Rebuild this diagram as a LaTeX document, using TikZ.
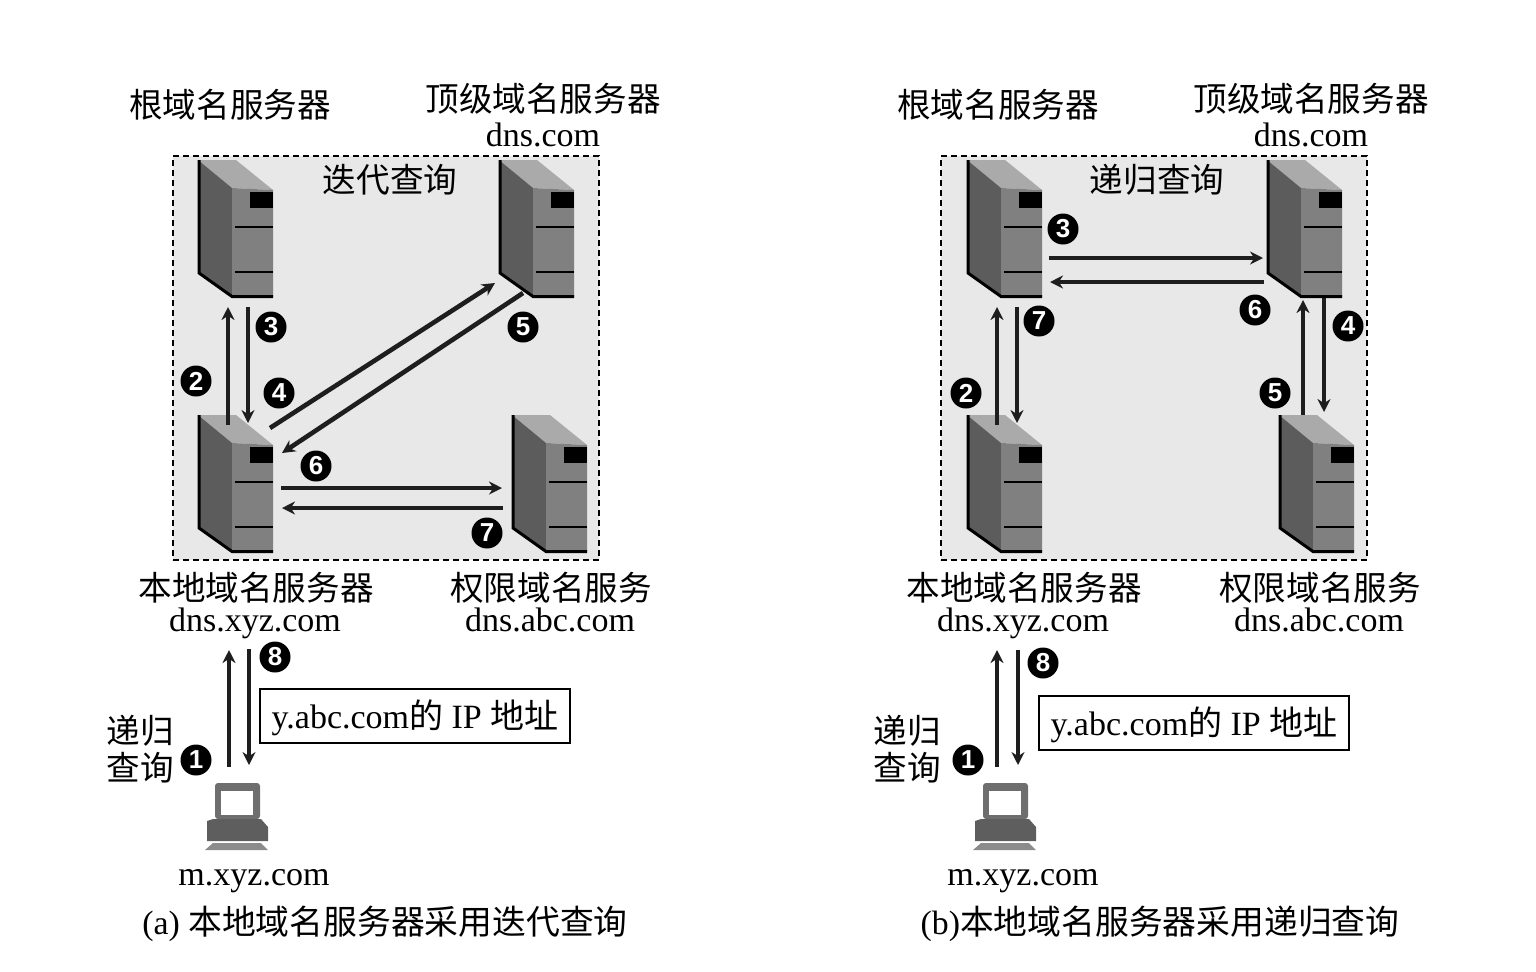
\documentclass[tikz,border=0pt]{standalone}
\usepackage{xcolor}
\usepackage{fontspec}
\usepackage{tikz}
\usetikzlibrary{
  arrows.meta,
  positioning
}
\setmainfont{Liberation Serif}
\newfontfamily\cjk{Noto Sans CJK SC}
\newfontfamily\numfont{Liberation Sans}
\definecolor{BoxGray}{RGB}{232,232,232}
\definecolor{ServerFront}{RGB}{128,128,128}
\definecolor{ServerSide}{RGB}{92,92,92}
\definecolor{ServerTop}{RGB}{170,170,170}
\definecolor{PcGray}{RGB}{110,110,110}
\definecolor{ArrowDark}{RGB}{30,30,30}
\tikzset{
  %%── 文字 ─────────────────────────────────────────────
  zhtxt/.style = {
    inner sep = 0pt, align = center,
    font = \fontsize{16.8}{18.5}\selectfont\cjk
  },
  entxt/.style = {
    inner sep = 0pt, align = center,
    text height = 12.5pt, text depth = 1.5pt,
    font = \fontsize{17}{19}\selectfont
  },
  capt/.style = {
    inner sep = 0pt, align = center,
    font = \fontsize{16.9}{19}\selectfont
  },
  %%── 编号 / 框 ────────────────────────────────────────
  num/.style = {
    circle, fill = black, text = white, inner sep = 0pt,
    minimum size = 15.5pt, font = \fontsize{13}{13}\selectfont\numfont\bfseries
  },
  grpbox/.style = {
    rectangle, draw = black, fill = BoxGray, dashed,
    line width = 1pt, dash pattern = on 3pt off 2pt,
    minimum width = 213pt, minimum height = 202pt, inner sep = 0pt
  },
  ansbox/.style = {
    rectangle, draw = black, line width = 0.9pt, inner sep = 0pt,
    minimum width = 155pt, minimum height = 27pt,
    text height = 13pt, text depth = 1pt,
    font = \fontsize{17}{19}\selectfont
  },
  %%── 箭头 ─────────────────────────────────────────────
  arr/.style = {
    -{Stealth[length = 6.5pt, width = 6.5pt]},
    line width = 2.3pt, color = ArrowDark
  },
  %%── 服务器 / 主机 ────────────────────────────────────
  server/.pic = {
    \node[anchor = north west, minimum width = 37.5pt, minimum height = 68.5pt,
      inner sep = 0pt] (-box) at (0,0) {};
    \fill[ServerTop]   (0,0) -- (38,0) -- (75,30) -- (34,28) -- cycle;
    \fill[ServerSide]  (0,0) -- (34,28) -- (34,137) -- (0,113) -- cycle;
    \fill[ServerFront] (34,28) -- (75,30) -- (75,137) -- (34,137) -- cycle;
    \fill[black] (52,32) rectangle (75,48);
    \draw[black, line width = 1pt] (37,67)  -- (75,67);
    \draw[black, line width = 1pt] (37,112) -- (75,112);
    \draw[black, line width = 1.5pt] (1,0) -- (1,113) -- (34,136.5) -- (75,136.5);
  },
  computer/.pic = {
    \node[anchor = north west, minimum width = 31.5pt, minimum height = 33.5pt,
      inner sep = 0pt] (-box) at (0,0) {};
    \fill[PcGray, rounded corners = 1.5pt] (10,0) rectangle (55,36);
    \fill[white] (16,8) rectangle (48,32);
    \fill[PcGray!85!black] (2,38) -- (8,36) -- (56,36) -- (63,44) -- (63,58) -- (2,58) -- cycle;
    \fill[PcGray!80] (8,60) -- (56,60) -- (63,67) -- (0,67) -- cycle;
  }
}

\begin{document}
\begin{tikzpicture}[x = 0.5pt, y = -0.5pt]

  \useasboundingbox (0,0) rectangle (1536,971);

  %% ── (a) 迭代查询 ─────────────────────────────────────
  \node[grpbox, anchor = north west] (groupA) at (172,155) {};
  \node[zhtxt] (iterA) at (390,180) {迭代查询};

  \pic (rootA)  at (198,160) {server};
  \pic (tldA)   at (499,160) {server};
  \pic (localA) at (198,415) {server};
  \pic (authA)  at (512,415) {server};
  \pic (pcA)    at (205,783) {computer};

  \node[zhtxt] (rootnameA)  at (230,105) {根域名服务器};
  \node[zhtxt] (tldnameA)   at (543,99)  {顶级域名服务器};
  \node[entxt] (tlddnsA)    at (543,135) {dns.com};
  \node[zhtxt] (localnameA) at (256,588) {本地域名服务器};
  \node[entxt] (localdnsA)  at (255,620) {dns.xyz.com};
  \node[zhtxt] (authnameA)  at (551,588) {权限域名服务};
  \node[entxt] (authdnsA)   at (550,620) {dns.abc.com};
  \node[zhtxt] (recurA)     at (140,749) {递归\\查询};
  \node[entxt] (pcnameA)    at (254,874) {m.xyz.com};
  \node[ansbox] (ansA)      at (415,716) {y.abc.com{\cjk 的} IP {\cjk 地址}};
  \node[capt]  (captA)      at (385,924) {(a) {\cjk 本地域名服务器采用迭代查询}};

  %% 编号
  \node[num] (n1A) at (196,760) {1};
  \node[num] (n2A) at (196,381) {2};
  \node[num] (n3A) at (271,327) {3};
  \node[num] (n4A) at (279,393) {4};
  \node[num] (n5A) at (523,327) {5};
  \node[num] (n6A) at (316,466) {6};
  \node[num] (n7A) at (487,533) {7};
  \node[num] (n8A) at (275,657) {8};

  %% 箭头
  \draw[arr] ([shift={(24,-16)}]pcA-box.north west) -- ([shift={(-26,30)}]localdnsA.center);
  \draw[arr] ([shift={(-6,29)}]localdnsA.center)    -- ([shift={(44,-18)}]pcA-box.north west);
  \draw[arr] ([shift={(30,10)}]localA-box.north west)  -- ([shift={(30,147)}]rootA-box.north west);
  \draw[arr] ([shift={(50,147)}]rootA-box.north west)  -- ([shift={(50,8)}]localA-box.north west);
  \draw[arr] ([shift={(72,13)}]localA-box.north west)  -- ([shift={(-4,123)}]tldA-box.north west);
  \draw[arr] ([shift={(24,133)}]tldA-box.north west)   -- ([shift={(84,38)}]localA-box.north west);
  \draw[arr] ([shift={(83,73)}]localA-box.north west)  -- ([shift={(-10,73)}]authA-box.north west);
  \draw[arr] ([shift={(-9,93)}]authA-box.north west)   -- ([shift={(84,93)}]localA-box.north west);

  %% ── (b) 递归查询 ─────────────────────────────────────
  \node[grpbox, anchor = north west] (groupB) at (940,155) {};
  \node[zhtxt] (iterB) at (1157,180) {递归查询};

  \pic (rootB)  at (967,160)  {server};
  \pic (tldB)   at (1267,160) {server};
  \pic (localB) at (967,415)  {server};
  \pic (authB)  at (1279,415) {server};
  \pic (pcB)    at (973,783)  {computer};

  \node[zhtxt] (rootnameB)  at (998,105)  {根域名服务器};
  \node[zhtxt] (tldnameB)   at (1311,99)  {顶级域名服务器};
  \node[entxt] (tlddnsB)    at (1311,135) {dns.com};
  \node[zhtxt] (localnameB) at (1024,588) {本地域名服务器};
  \node[entxt] (localdnsB)  at (1023,620) {dns.xyz.com};
  \node[zhtxt] (authnameB)  at (1320,588) {权限域名服务};
  \node[entxt] (authdnsB)   at (1319,620) {dns.abc.com};
  \node[zhtxt] (recurB)     at (907,749)  {递归\\查询};
  \node[entxt] (pcnameB)    at (1023,874) {m.xyz.com};
  \node[ansbox] (ansB)      at (1194,723) {y.abc.com{\cjk 的} IP {\cjk 地址}};
  \node[capt]  (captB)      at (1160,924) {(b){\cjk 本地域名服务器采用递归查询}};

  %% 编号
  \node[num] (n1B) at (968,760)  {1};
  \node[num] (n2B) at (966,393)  {2};
  \node[num] (n3B) at (1063,229) {3};
  \node[num] (n4B) at (1348,326) {4};
  \node[num] (n5B) at (1275,393) {5};
  \node[num] (n6B) at (1255,310) {6};
  \node[num] (n7B) at (1039,321) {7};
  \node[num] (n8B) at (1043,663) {8};

  %% 箭头
  \draw[arr] ([shift={(24,-16)}]pcB-box.north west) -- ([shift={(-26,30)}]localdnsB.center);
  \draw[arr] ([shift={(-5,30)}]localdnsB.center)    -- ([shift={(45,-18)}]pcB-box.north west);
  \draw[arr] ([shift={(30,10)}]localB-box.north west) -- ([shift={(30,147)}]rootB-box.north west);
  \draw[arr] ([shift={(50,147)}]rootB-box.north west) -- ([shift={(50,8)}]localB-box.north west);
  \draw[arr] ([shift={(82,98)}]rootB-box.north west)  -- ([shift={(-4,98)}]tldB-box.north west);
  \draw[arr] ([shift={(-3,122)}]tldB-box.north west)  -- ([shift={(83,122)}]rootB-box.north west);
  \draw[arr] ([shift={(57,138)}]tldB-box.north west)  -- ([shift={(45,-3)}]authB-box.north west);
  \draw[arr] ([shift={(24,0)}]authB-box.north west)   -- ([shift={(36,140)}]tldB-box.north west);

\end{tikzpicture}
\end{document}
